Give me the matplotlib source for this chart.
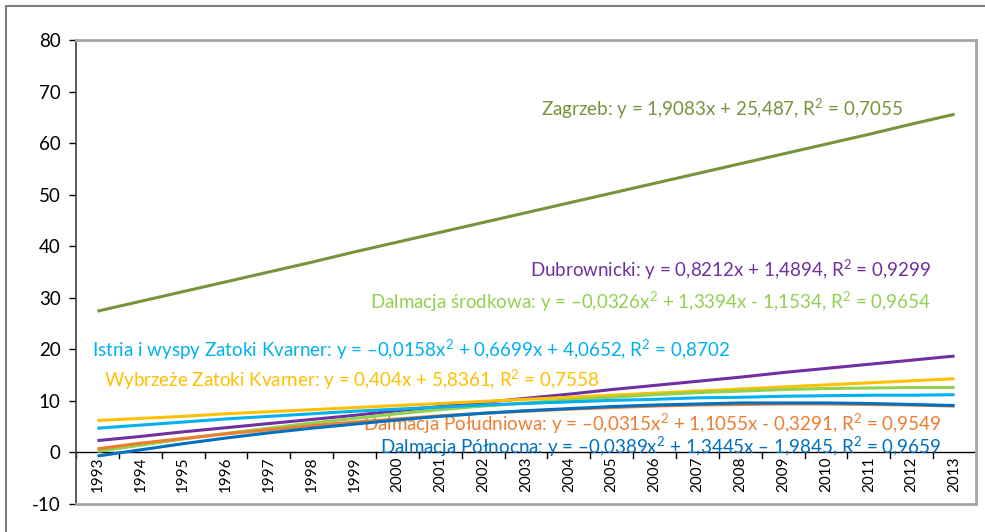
import matplotlib.pyplot as plt
import matplotlib.patches as patches

years = list(range(1993, 2014))

# trend line values, one per year
zagrzeb = [27.4, 29.3, 31.2, 33.1, 35.0, 36.9, 38.9, 40.8, 42.7, 44.6, 46.5,
           48.4, 50.3, 52.2, 54.1, 56.0, 57.9, 59.8, 61.7, 63.7, 65.6]
dubrownicki = [2.3, 3.1, 4.0, 4.8, 5.6, 6.4, 7.2, 8.1, 8.9, 9.7, 10.5,
               11.3, 12.2, 13.0, 13.8, 14.6, 15.5, 16.3, 17.1, 17.9, 18.7]
dalm_srodkowa = [0.2, 1.4, 2.6, 3.7, 4.7, 5.7, 6.6, 7.5, 8.3, 9.0, 9.6,
                 10.2, 10.7, 11.2, 11.6, 11.9, 12.2, 12.4, 12.5, 12.6, 12.6]
istria = [4.7, 5.3, 5.9, 6.5, 7.0, 7.5, 8.0, 8.4, 8.8, 9.2, 9.5,
          9.8, 10.1, 10.3, 10.6, 10.7, 10.9, 11.0, 11.1, 11.1, 11.2]
wybrzeze = [6.2, 6.6, 7.0, 7.5, 7.9, 8.3, 8.7, 9.1, 9.5, 9.9, 10.3,
            10.7, 11.1, 11.5, 11.9, 12.3, 12.7, 13.1, 13.5, 13.9, 14.3]
dalm_poludniowa = [0.7, 1.8, 2.7, 3.6, 4.4, 5.2, 5.9, 6.5, 7.1, 7.6, 8.0,
                   8.4, 8.7, 9.0, 9.2, 9.3, 9.4, 9.4, 9.3, 9.2, 9.0]
dalm_polnocna = [-0.7, 0.5, 1.7, 2.8, 3.8, 4.7, 5.5, 6.3, 7.0, 7.6, 8.1,
                 8.5, 8.9, 9.2, 9.4, 9.6, 9.6, 9.6, 9.5, 9.3, 9.1]

labels = {
    'zagrzeb': 'Zagrzeb: y = 1,9083x + 25,487, R$^2$ = 0,7055',
    'dubrownicki': 'Dubrownicki: y = 0,8212x + 1,4894, R$^2$ = 0,9299',
    'srodkowa': 'Dalmacja środkowa: y = –0,0326x$^2$ + 1,3394x - 1,1534, R$^2$ = 0,9654',
    'istria': 'Istria i wyspy Zatoki Kvarner: y = –0,0158x$^2$ + 0,6699x + 4,0652, R$^2$ = 0,8702',
    'wybrzeze': 'Wybrzeże Zatoki Kvarner: y = 0,404x + 5,8361, R$^2$ = 0,7558',
    'poludniowa': 'Dalmacja Południowa: y = –0,0315x$^2$ + 1,1055x - 0,3291, R$^2$ = 0,9549',
    'polnocna': 'Dalmacja Północna: y = –0,0389x$^2$ + 1,3445x – 1,9845, R$^2$ = 0,9659',
}

plt.rcParams['font.family'] = ['Lato', 'DejaVu Sans']
plt.rcParams['mathtext.fontset'] = 'custom'
plt.rcParams['mathtext.rm'] = 'Lato'
plt.rcParams['axes.unicode_minus'] = False

fig = plt.figure(figsize=(9.85, 5.32), dpi=100)
# outer chart border (right and bottom edges fall outside the picture)
fig.add_artist(patches.Rectangle((6 / 985, -0.05), 1.0, 1 - 6 / 532 + 0.05,
                                 transform=fig.transFigure, fill=False,
                                 edgecolor='#7f7f7f', linewidth=1.5))
ax = fig.add_axes([76 / 985, 1 - 504 / 532, 900 / 985, 464 / 532])

x = list(range(len(years)))
series = [
    (zagrzeb, '#77933C'),
    (dubrownicki, '#7030A0'),
    (wybrzeze, '#FFC000'),
    (dalm_srodkowa, '#92D050'),
    (istria, '#00B0F0'),
    (dalm_poludniowa, '#ED7D31'),
    (dalm_polnocna, '#0070C0'),
]
for vals, col in series:
    ax.plot(x, vals, color=col, linewidth=2.2, solid_capstyle='butt', zorder=3)

ax.set_xlim(-0.5, len(years) - 0.5)
ax.set_ylim(-10, 80)
ax.set_yticks(range(-10, 81, 10))
ax.tick_params(axis='y', labelsize=13.5, length=5, width=1, direction='out', pad=6)
ax.set_xticks([])
for s in ['top', 'right', 'bottom']:
    ax.spines[s].set_color('#a6a6a6')
    ax.spines[s].set_linewidth(2)
ax.spines['left'].set_color('#404040')
ax.spines['left'].set_linewidth(1.2)

# category axis drawn at y = 0
ax.axhline(0, color='black', linewidth=1, zorder=2)
for i in range(len(years) + 1):
    ax.plot([i - 0.5, i - 0.5], [0, -1.0], color='black', linewidth=1, zorder=2)
for i, yr in enumerate(years):
    ax.text(i, -0.8, str(yr), rotation=90, ha='center', va='top', fontsize=11)

fs = 13.5
ax.text(10.35, 66.8, labels['zagrzeb'], color='#77933C', fontsize=fs, va='center', zorder=2)
ax.text(10.09, 35.4, labels['dubrownicki'], color='#7030A0', fontsize=fs, va='center', zorder=2)
ax.text(6.36, 29.2, labels['srodkowa'], color='#92D050', fontsize=fs, va='center', zorder=2)
ax.text(-0.13, 20.0, labels['istria'], color='#00B0F0', fontsize=fs, va='center', zorder=2)
ax.text(0.15, 14.2, labels['wybrzeze'], color='#FFC000', fontsize=fs, va='center', zorder=2)
ax.text(6.2, 5.7, labels['poludniowa'], color='#ED7D31', fontsize=fs, va='center', zorder=2)
ax.text(6.6, 1.2, labels['polnocna'], color='#0070C0', fontsize=fs, va='center', zorder=2)

fig.savefig('out.png', dpi=100)
